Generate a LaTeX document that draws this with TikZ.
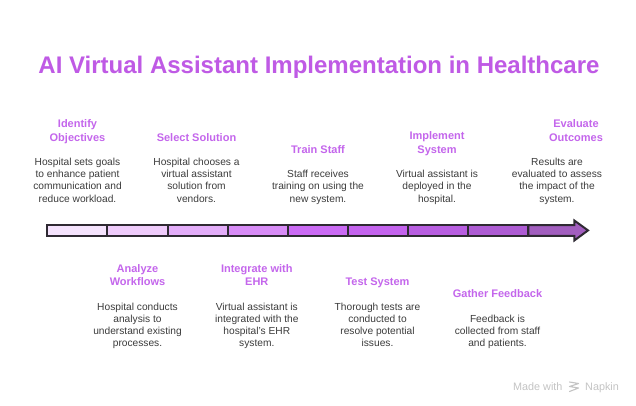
\documentclass[tikz,border=0pt]{standalone}
\usepackage{fontspec}
\setmainfont{Liberation Sans}
\definecolor{segA}{HTML}{F5E3FD}
\definecolor{segB}{HTML}{EFCBFB}
\definecolor{segC}{HTML}{E3ADF9}
\definecolor{segD}{HTML}{D88CF7}
\definecolor{segE}{HTML}{CB6BF5}
\definecolor{segF}{HTML}{C463EE}
\definecolor{segG}{HTML}{B85EE1}
\definecolor{segH}{HTML}{AE5CD4}
\definecolor{segI}{HTML}{A25EBF}
\definecolor{barline}{HTML}{2F2A33}
\definecolor{titlecol}{HTML}{BF5AE5}
\definecolor{steptitle}{HTML}{C466EC}
\definecolor{bodytext}{HTML}{3C3C3C}
\definecolor{wmcol}{HTML}{C4C4C4}
\begin{document}
\begin{tikzpicture}[x=1pt,y=-1pt,
  seg/.style={draw=barline, line width=2pt, line join=miter},
  stitle/.style={font=\fontsize{11}{13.5}\selectfont\bfseries, text=steptitle, align=center, inner sep=0pt, anchor=south},
  sbody/.style={font=\fontsize{10.2}{12.2}\selectfont, text=bodytext, align=center, inner sep=0pt, anchor=south},
  wm/.style={font=\fontsize{10.8}{12}\selectfont, text=wmcol, inner sep=0pt}
]
\useasboundingbox (0,0) rectangle (636,406);
\fill[white] (0,0) rectangle (636,406);

% title
\node[font=\fontsize{24}{28}\selectfont\bfseries, text=titlecol, anchor=base, inner sep=0pt] (title) at (319,73.3) {AI Virtual Assistant Implementation in Healthcare};

% bar
\filldraw[seg, fill=segI] (528.3,225) -- (574.3,225) -- (574.3,220.5) -- (588,230.4) -- (574.3,240.5) -- (574.3,235.8) -- (528.3,235.8) -- cycle;
\filldraw[seg, fill=segA] (47.3,225) rectangle (107.4,235.8);
\filldraw[seg, fill=segB] (107.4,225) rectangle (167.5,235.8);
\filldraw[seg, fill=segC] (167.5,225) rectangle (227.6,235.8);
\filldraw[seg, fill=segD] (227.6,225) rectangle (287.7,235.8);
\filldraw[seg, fill=segE] (287.7,225) rectangle (347.9,235.8);
\filldraw[seg, fill=segF] (347.9,225) rectangle (408.0,235.8);
\filldraw[seg, fill=segG] (408.0,225) rectangle (468.1,235.8);
\filldraw[seg, fill=segH] (468.1,225) rectangle (528.3,235.8);

% top columns
\node[sbody] (b1) at (77.5,206) {Hospital sets goals\strut\\to enhance patient\\communication and\\reduce workload.\strut};
\node[stitle] (t1) at ([yshift=11.5pt]b1.north) {Identify\\Objectives\strut};

\node[sbody] (b3) at (196.5,206) {Hospital chooses a\strut\\virtual assistant\\solution from\\vendors.\strut};
\node[stitle] (t3) at ([yshift=11.5pt]b3.north) {Select Solution\strut};

\node[sbody] (b5) at (318,206) {Staff receives\strut\\training on using the\\new system.\strut};
\node[stitle] (t5) at ([yshift=11.5pt]b5.north) {Train Staff\strut};

\node[sbody] (b7) at (437,206) {Virtual assistant is\strut\\deployed in the\\hospital.\strut};
\node[stitle] (t7) at ([yshift=11.5pt]b7.north) {Implement\\System\strut};

\node[sbody] (b9) at (557,206) {Results are\strut\\evaluated to assess\\the impact of the\\system.\strut};
\node[stitle] (t9) at ([xshift=19pt,yshift=11.5pt]b9.north) {Evaluate\\Outcomes\strut};

% bottom columns
\node[sbody] (b2) at (137.5,350.6) {Hospital conducts\strut\\analysis to\\understand existing\\processes.\strut};
\node[stitle] (t2) at ([yshift=11.5pt]b2.north) {Analyze\\Workflows\strut};

\node[sbody] (b4) at (256.8,350.6) {Virtual assistant is\strut\\integrated with the\\hospital's EHR\\system.\strut};
\node[stitle] (t4) at ([yshift=11.5pt]b4.north) {Integrate with\\EHR\strut};

\node[sbody] (b6) at (377.5,350.6) {Thorough tests are\strut\\conducted to\\resolve potential\\issues.\strut};
\node[stitle] (t6) at ([yshift=11.5pt]b6.north) {Test System\strut};

\node[sbody] (b8) at (497.5,350.6) {Feedback is\strut\\collected from staff\\and patients.\strut};
\node[stitle] (t8) at ([yshift=11.5pt]b8.north) {Gather Feedback\strut};

% watermark
\node[wm, anchor=base west] (wm1) at (513,390.5) {Made with};
\node[wm, anchor=base west] (wm2) at (585,390.5) {Napkin};
\draw[wmcol, line width=1.1pt, line cap=round, line join=round]
  (569.5,382) -- (578.5,383.5) -- (569.5,386.5) -- (578.5,388) -- (569.5,391.5);
\end{tikzpicture}
\end{document}
